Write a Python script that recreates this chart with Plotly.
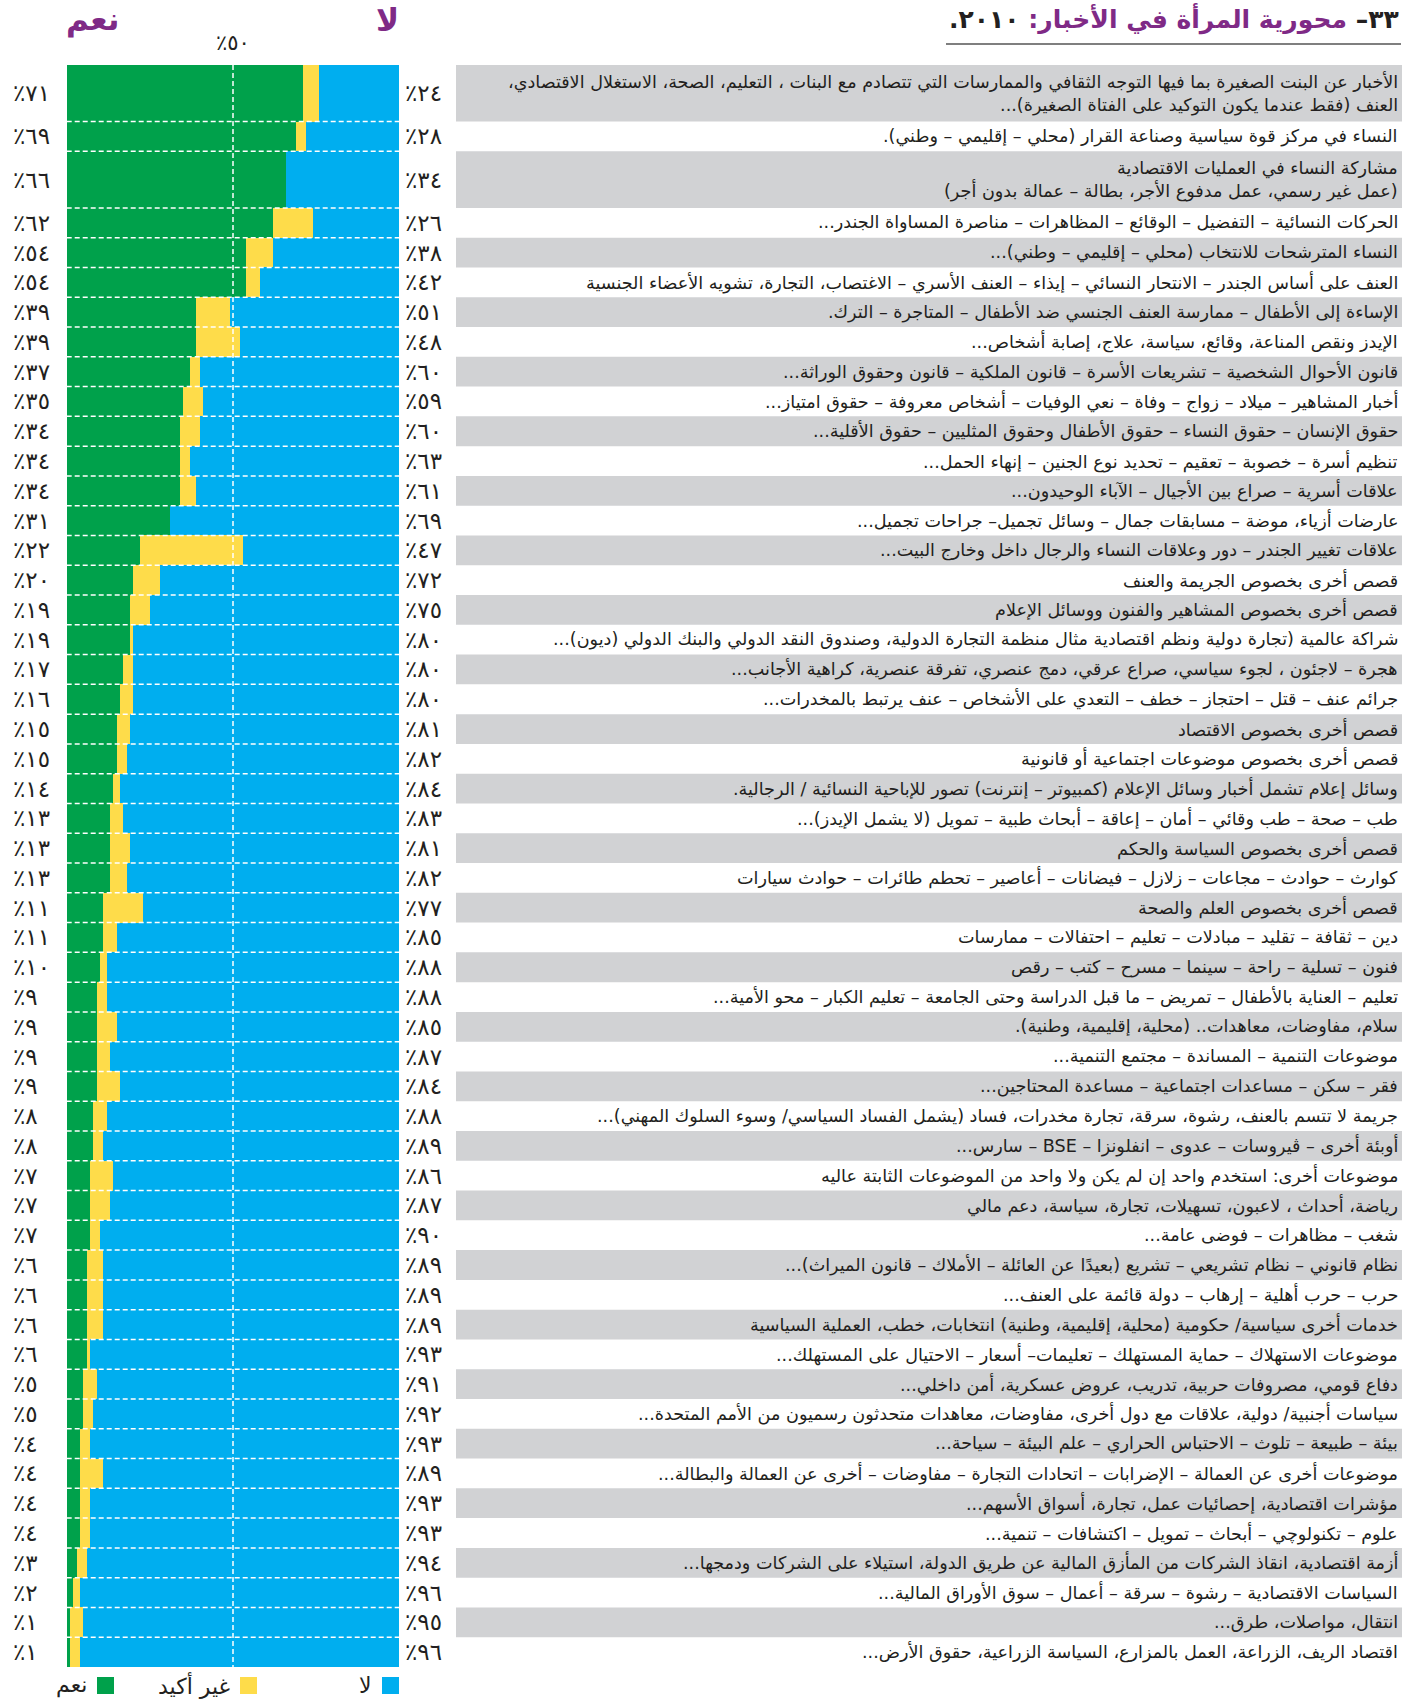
import plotly.graph_objects as go

W, H = 1421, 1701

# --- data -----------------------------------------------------------------
TOPICS = [
    "الأخبار عن البنت الصغيرة بما فيها التوجه الثقافي والممارسات التي تتصادم مع البنات ، التعليم، الصحة، الاستغلال الاقتصادي،<br>العنف (فقط عندما يكون التوكيد على الفتاة الصغيرة)...",
    "النساء في مركز قوة سياسية وصناعة القرار (محلي – إقليمي – وطني).",
    "مشاركة النساء في العمليات الاقتصادية<br>(عمل غير رسمي، عمل مدفوع الأجر، بطالة – عمالة بدون أجر)",
    "الحركات النسائية – التفضيل – الوقائع – المظاهرات – مناصرة المساواة الجندر...",
    "النساء المترشحات للانتخاب (محلي – إقليمي – وطني)...",
    "العنف على أساس الجندر – الانتحار النسائي – إيذاء – العنف الأسري – الاغتصاب، التجارة، تشويه الأعضاء الجنسية",
    "الإساءة إلى الأطفال – ممارسة العنف الجنسي ضد الأطفال – المتاجرة – الترك.",
    "الإيدز ونقص المناعة، وقائع، سياسة، علاج، إصابة أشخاص...",
    "قانون الأحوال الشخصية – تشريعات الأسرة – قانون الملكية – قانون وحقوق الوراثة...",
    "أخبار المشاهير – ميلاد – زواج – وفاة – نعي الوفيات – أشخاص معروفة – حقوق امتياز...",
    "حقوق الإنسان – حقوق النساء – حقوق الأطفال وحقوق المثليين – حقوق الأقلية...",
    "تنظيم أسرة – خصوبة – تعقيم – تحديد نوع الجنين – إنهاء الحمل...",
    "علاقات أسرية – صراع بين الأجيال – الآباء الوحيدون...",
    "عارضات أزياء، موضة – مسابقات جمال – وسائل تجميل– جراحات تجميل...",
    "علاقات تغيير الجندر – دور وعلاقات النساء والرجال داخل وخارج البيت...",
    "قصص أخرى بخصوص الجريمة والعنف",
    "قصص أخرى بخصوص المشاهير والفنون ووسائل الإعلام",
    "شراكة عالمية (تجارة دولية ونظم اقتصادية مثال منظمة التجارة الدولية، وصندوق النقد الدولي والبنك الدولي (ديون)...",
    "هجرة – لاجئون ، لجوء سياسي، صراع عرقي، دمج عنصري، تفرقة عنصرية، كراهية الأجانب...",
    "جرائم عنف – قتل – احتجاز – خطف – التعدي على الأشخاص – عنف يرتبط بالمخدرات...",
    "قصص أخرى بخصوص الاقتصاد",
    "قصص أخرى بخصوص موضوعات اجتماعية أو قانونية",
    "وسائل إعلام تشمل أخبار وسائل الإعلام (كمبيوتر – إنترنت) تصور للإباحية النسائية / الرجالية.",
    "طب – صحة – طب وقائي – أمان – إعاقة – أبحاث طبية – تمويل (لا يشمل الإيدز)...",
    "قصص أخرى بخصوص السياسة والحكم",
    "كوارث – حوادث – مجاعات – زلازل – فيضانات – أعاصير – تحطم طائرات – حوادث سيارات",
    "قصص أخرى بخصوص العلم والصحة",
    "دين – ثقافة – تقليد – مبادلات – تعليم – احتفالات – ممارسات",
    "فنون – تسلية – راحة – سينما – مسرح – كتب – رقص",
    "تعليم – العناية بالأطفال – تمريض – ما قبل الدراسة وحتى الجامعة – تعليم الكبار – محو الأمية...",
    "سلام، مفاوضات، معاهدات.. (محلية، إقليمية، وطنية).",
    "موضوعات التنمية – المساندة – مجتمع التنمية...",
    "فقر – سكن – مساعدات اجتماعية – مساعدة المحتاجين...",
    "جريمة لا تتسم بالعنف، رشوة، سرقة، تجارة مخدرات، فساد (يشمل الفساد السياسي/ وسوء السلوك المهني)...",
    "أوبئة أخرى – ڤيروسات – عدوى – انفلونزا – BSE – سارس...",
    "موضوعات أخرى: استخدم واحد إن لم يكن ولا واحد من الموضوعات الثابتة عاليه",
    "رياضة، أحداث ، لاعبون، تسهيلات، تجارة، سياسة، دعم مالي",
    "شغب – مظاهرات – فوضى عامة...",
    "نظام قانوني – نظام تشريعي – تشريع (بعيدًا عن العائلة – الأملاك – قانون الميراث)...",
    "حرب – حرب أهلية – إرهاب – دولة قائمة على العنف...",
    "خدمات أخرى سياسية/ حكومية (محلية، إقليمية، وطنية) انتخابات، خطب، العملية السياسية",
    "موضوعات الاستهلاك – حماية المستهلك – تعليمات– أسعار – الاحتيال على المستهلك...",
    "دفاع قومي، مصروفات حربية، تدريب، عروض عسكرية، أمن داخلي...",
    "سياسات أجنبية/ دولية، علاقات مع دول أخرى، مفاوضات، معاهدات متحدثون رسميون من الأمم المتحدة...",
    "بيئة – طبيعة – تلوث – الاحتباس الحراري – علم البيئة – سياحة...",
    "موضوعات أخرى عن العمالة – الإضرابات – اتحادات التجارة – مفاوضات – أخرى عن العمالة والبطالة...",
    "مؤشرات اقتصادية، إحصائيات عمل، تجارة، أسواق الأسهم...",
    "علوم – تكنولوچي – أبحاث – تمويل – اكتشافات – تنمية...",
    "أزمة اقتصادية، انقاذ الشركات من المأزق المالية عن طريق الدولة، استيلاء على الشركات ودمجها...",
    "السياسات الاقتصادية – رشوة – سرقة – أعمال – سوق الأوراق المالية...",
    "انتقال، مواصلات، طرق...",
    "اقتصاد الريف، الزراعة، العمل بالمزارع، السياسة الزراعية، حقوق الأرض...",
]

YES = [71, 69, 66, 62, 54, 54, 39, 39, 37, 35, 34, 34, 34, 31, 22, 20, 19, 19,
       17, 16, 15, 15, 14, 13, 13, 13, 11, 11, 10, 9, 9, 9, 9, 8, 8, 7, 7, 7,
       6, 6, 6, 6, 5, 5, 4, 4, 4, 4, 3, 2, 1, 1]
UNSURE = [5, 3, 0, 12, 8, 4, 10, 13, 3, 6, 6, 3, 5, 0, 31, 8, 6, 1,
          3, 4, 4, 3, 2, 4, 6, 5, 12, 4, 2, 3, 6, 4, 7, 4, 3, 7, 6, 3,
          5, 5, 5, 1, 4, 3, 3, 7, 3, 3, 3, 2, 4, 3]
NO = [24, 28, 34, 26, 38, 42, 51, 48, 60, 59, 60, 63, 61, 69, 47, 72, 75, 80,
      80, 80, 81, 82, 84, 83, 81, 82, 77, 85, 88, 88, 85, 87, 84, 88, 89, 86, 87, 90,
      89, 89, 89, 93, 91, 92, 93, 89, 93, 93, 94, 96, 95, 96]

SERIES = ["نعم", "غير أكيد", "لا"]
TITLE_NUM = "٣٣–"
TITLE_TEXT = "محورية المرأة في الأخبار:"
TITLE_YEAR = "٢٠١٠."

# --- style ----------------------------------------------------------------
GREEN, YELLOW, BLUE = "#00a14b", "#fedc4a", "#00aeef"
PURPLE = "#7f2a86"
GRAY = "#d1d2d4"
INK = "#231f20"
FONT = "DejaVu Sans, sans-serif"

BAR_L, BAR_R, BAR_T, BAR_B = 66.7, 399.3, 65, 1667


def px_x(p):
    return p / W


def px_y(p):
    return 1 - p / H


def ar(n):
    return str(n).translate(str.maketrans("0123456789", "٠١٢٣٤٥٦٧٨٩"))


def rtl(s):
    return "<br>".join("\u202b" + line + "\u202c" for line in s.split("<br>"))


heights = [1.9 if "<br>" in t else 1.0 for t in TOPICS]
edges = [0.0]
for h in heights:
    edges.append(edges[-1] + h)
centers = [(a + b) / 2 for a, b in zip(edges[:-1], edges[1:])]
total = edges[-1]

fig = go.Figure()
for name, vals, col in zip(SERIES, [YES, UNSURE, NO], [GREEN, YELLOW, BLUE]):
    fig.add_trace(go.Bar(
        y=centers, x=vals, width=heights, orientation="h", name=name,
        marker=dict(color=col, line=dict(width=0)), showlegend=False,
    ))

shapes = []
annotations = []

# grey bands behind every other topic
for i, t in enumerate(TOPICS):
    if i % 2 == 0:
        shapes.append(dict(type="rect", xref="paper", yref="y",
                           x0=px_x(456), x1=px_x(1402), y0=edges[i], y1=edges[i + 1],
                           fillcolor=GRAY, line=dict(width=0), layer="below"))
    annotations.append(dict(xref="paper", yref="y", x=px_x(1400), y=centers[i],
                            xanchor="right", yanchor="middle", align="right",
                            text=rtl(t), showarrow=False,
                            font=dict(size=17.6, color=INK, family=FONT)))
    annotations.append(dict(xref="paper", yref="y", x=px_x(11), y=centers[i],
                            xanchor="left", yanchor="middle", showarrow=False,
                            text="٪" + ar(YES[i]),
                            font=dict(size=23, color=INK, family=FONT)))
    annotations.append(dict(xref="paper", yref="y", x=px_x(403), y=centers[i],
                            xanchor="left", yanchor="middle", showarrow=False,
                            text="٪" + ar(NO[i]),
                            font=dict(size=23, color=INK, family=FONT)))

# dashed white separators
dash = dict(color="white", width=1.5, dash="5px,3px")
for e in edges[1:-1]:
    shapes.append(dict(type="line", xref="x", yref="y", x0=0, x1=100, y0=e, y1=e, line=dash))
shapes.append(dict(type="line", xref="x", yref="y", x0=50, x1=50, y0=0, y1=total, line=dash))

# title + underline
annotations.append(dict(
    xref="paper", yref="paper", x=px_x(1401), y=px_y(19), xanchor="right", yanchor="middle",
    showarrow=False, font=dict(size=25, family=FONT, color=INK),
    text="\u202b<b>" + TITLE_NUM + " <span style='color:" + PURPLE + "'>" + TITLE_TEXT
         + "</span> " + TITLE_YEAR + "</b>\u202c"))
shapes.append(dict(type="line", xref="paper", yref="paper", x0=px_x(946), x1=px_x(1401),
                   y0=px_y(44), y1=px_y(44), line=dict(color="#555555", width=1.5)))

# column headers
annotations.append(dict(xref="paper", yref="paper", x=px_x(64), y=px_y(20), xanchor="left",
                        yanchor="middle", showarrow=False, text="<b>" + SERIES[0] + "</b>",
                        font=dict(size=31, color=PURPLE, family=FONT)))
annotations.append(dict(xref="paper", yref="paper", x=px_x(401), y=px_y(20), xanchor="right",
                        yanchor="middle", showarrow=False, text="<b>" + SERIES[2] + "</b>",
                        font=dict(size=31, color=PURPLE, family=FONT)))
annotations.append(dict(xref="x", yref="paper", x=50, y=px_y(43), xanchor="center",
                        yanchor="middle", showarrow=False, text="٪" + ar(50),
                        font=dict(size=21, color=INK, family=FONT)))

# legend
for name, col, sq_left in zip(SERIES, [GREEN, YELLOW, BLUE], [97, 240, 382]):
    shapes.append(dict(type="rect", xref="paper", yref="paper",
                       x0=px_x(sq_left), x1=px_x(sq_left + 17),
                       y0=px_y(1694), y1=px_y(1677), fillcolor=col, line=dict(width=0)))
    annotations.append(dict(xref="paper", yref="paper", x=px_x(sq_left - 8), y=px_y(1685),
                            xanchor="right", yanchor="middle", showarrow=False,
                            text=rtl(name), font=dict(size=22, color=INK, family=FONT)))

fig.update_layout(
    width=W, height=H, margin=dict(l=0, r=0, t=0, b=0),
    paper_bgcolor="white", plot_bgcolor="white",
    barmode="stack", showlegend=False,
    xaxis=dict(domain=[px_x(BAR_L), px_x(BAR_R)], range=[0, 100], visible=False, fixedrange=True),
    yaxis=dict(domain=[px_y(BAR_B), px_y(BAR_T)], range=[total, 0], visible=False, fixedrange=True),
    shapes=shapes, annotations=annotations,
    font=dict(family=FONT, color=INK),
)

# the page body has an 8px default margin; drop it so the figure sits at (0, 0)
fig.write_html("out.html", config={"displayModeBar": False},
               post_script="document.body.style.margin='0';")
